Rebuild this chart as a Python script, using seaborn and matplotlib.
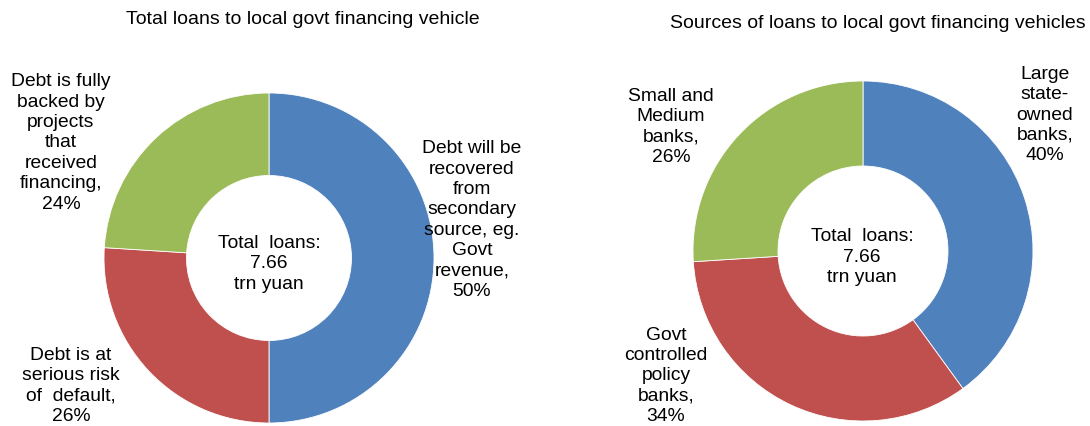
import matplotlib
matplotlib.use("Agg")
import matplotlib.pyplot as plt
import seaborn as sns

# data
left_title = "Total loans to local govt financing vehicle"
left_labels = ["Debt will be\nrecovered\nfrom\nsecondary\nsource, eg.\nGovt\nrevenue",
               "Debt is at\nserious risk\nof  default",
               "Debt is fully\nbacked by\nprojects\nthat\nreceived\nfinancing"]
left_values = [50, 26, 24]

right_title = "Sources of loans to local govt financing vehicles"
right_labels = ["Large\nstate-\nowned\nbanks",
                "Govt\ncontrolled\npolicy\nbanks",
                "Small and\nMedium\nbanks"]
right_values = [40, 34, 26]

center_text = "Total  loans:\n7.66\ntrn yuan"

sns.set_theme(style="white")
plt.rcParams['font.family'] = ['Liberation Sans', 'DejaVu Sans']
plt.rcParams['text.color'] = 'black'
colors = sns.color_palette(["#4F81BD", "#C0504D", "#9BBB59"])

W, H = 1090, 427
fig = plt.figure(figsize=(W / 100, H / 100), dpi=100)


def px(x, y):
    return x / W, 1 - y / H


def donut(cx, cy, r, values):
    ax = fig.add_axes([(cx - r) / W, 1 - (cy + r) / H, 2 * r / W, 2 * r / H])
    ax.pie(values, colors=colors, startangle=90, counterclock=False, radius=1,
           wedgeprops=dict(width=0.5, edgecolor="white", linewidth=0.6))
    ax.set_xlim(-1, 1)
    ax.set_ylim(-1, 1)
    ax.axis("off")
    return ax


donut(269, 259, 165, left_values)
donut(863, 252, 170, right_values)

# titles
fig.text(*px(303, 19), left_title, ha="center", va="center", fontsize=14)
fig.text(*px(878, 23), right_title, ha="center", va="center", fontsize=14)

lab = dict(ha="center", va="center", fontsize=13.9, linespacing=1.26)

# left labels
left_pos = [(472, 220), (71, 386), (61, 143)]
for (x, y), name, v in zip(left_pos, left_labels, left_values):
    fig.text(*px(x, y), f"{name},\n{v}%", **lab)
fig.text(*px(269, 264), center_text, **lab)

# right labels
right_pos = [(1045, 115), (666, 376), (671, 127)]
for (x, y), name, v in zip(right_pos, right_labels, right_values):
    fig.text(*px(x, y), f"{name},\n{v}%", **lab)
fig.text(*px(862, 257), center_text, **lab)

fig.savefig("out.png", dpi=100)
